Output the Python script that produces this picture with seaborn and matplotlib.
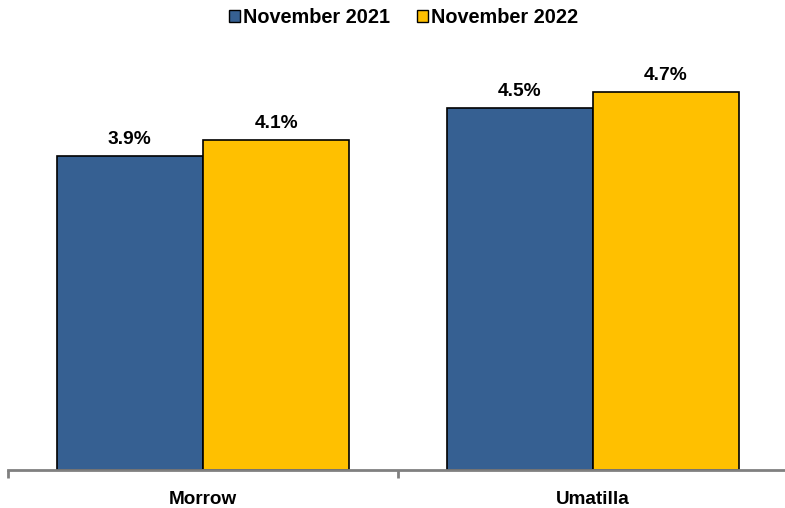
import pandas as pd
import matplotlib.pyplot as plt
import seaborn as sns
from matplotlib.patches import Patch

# Datos del gráfico
condados = ["Morrow", "Umatilla"]
series = ["November 2021", "November 2022"]
nov_2021 = [3.9, 4.5]
nov_2022 = [4.1, 4.7]
colores = ["#366092", "#FFC000"]

df = pd.DataFrame({
    "condado": condados * 2,
    "periodo": [series[0]] * 2 + [series[1]] * 2,
    "tasa": nov_2021 + nov_2022,
})

sns.set_style("white")
plt.rcParams["font.family"] = ["Liberation Sans", "DejaVu Sans"]
plt.rcParams["text.color"] = "black"
plt.rcParams["xtick.color"] = "black"

fig = plt.figure(figsize=(7.85, 5.08), dpi=100)
ax = fig.add_axes([8 / 785, 38 / 508, 780 / 785, 402 / 508])

sns.barplot(data=df, x="condado", y="tasa", hue="periodo", palette=colores,
            saturation=1, width=0.75, edgecolor="black", linewidth=1.2,
            ax=ax, legend=False)

# Etiquetas de valor sobre cada barra
for cont in ax.containers:
    ax.bar_label(cont, labels=[f"{v:.1f}%" for v in cont.datavalues],
                 padding=6, fontsize=13.8, fontweight="bold", color="black")

ax.set_xlim(-0.5, 1.5)
ax.set_ylim(0, 5)
ax.set_xlabel("")
ax.set_ylabel("")
ax.set_yticks([])
ax.set_xticks([-0.5, 0.5, 1.5], minor=False)
ax.set_xticklabels([])
ax.set_xticks([0, 1], minor=True)
ax.set_xticklabels(condados, minor=True, fontsize=13.6, fontweight="bold")
ax.tick_params(axis="x", which="major", direction="out", length=6, width=2,
               color="#808080", bottom=True)
ax.tick_params(axis="x", which="minor", length=0, pad=15, labelcolor="black")

for lado in ["top", "right", "left"]:
    ax.spines[lado].set_visible(False)
ax.spines["bottom"].set_color("#808080")
ax.spines["bottom"].set_linewidth(2)

handles = [Patch(facecolor=c, edgecolor="black", linewidth=1) for c in colores]
fig.legend(handles, series, loc="upper center", bbox_to_anchor=(0.514, 1.02),
           ncol=2, frameon=False, handlelength=0.55, handleheight=0.55,
           handletextpad=0.15, columnspacing=1.4,
           prop={"size": 14.3, "weight": "bold"})

fig.savefig("out.png", dpi=100)
